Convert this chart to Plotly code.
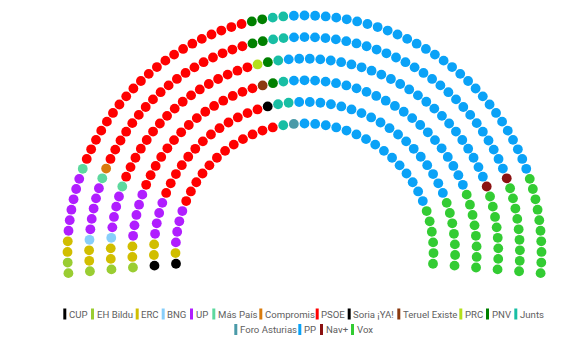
import numpy as np
import plotly.graph_objects as go

# ---------------- data ----------------
parties = ["CUP", "EH Bildu", "ERC", "BNG", "UP", "Más País", "Compromis", "PSOE",
           "Soria ¡YA!", "Teruel Existe", "PRC", "PNV", "Junts", "Foro Asturias",
           "PP", "Nav+", "Vox"]
seats = [2, 5, 11, 2, 28, 3, 1, 96, 1, 1, 1, 6, 9, 1, 133, 2, 48]
colors = ["#000000", "#9acd32", "#d1be00", "#87cefa", "#b01eff", "#5dd89e",
          "#d97b0d", "#ff0000", "#000000", "#8b3a10", "#b4e01c", "#008000",
          "#18bea4", "#4a9aa8", "#0aa2f7", "#8b1111", "#33cc33"]

# ---------------- layout parameters ----------------
W, H = 588, 353
CX, CY = 304.5, 252.5
R_INNER, R_OUTER = 129.0, 237.0
N_ROWS = 6
START_DEG, END_DEG = 185.0, -5.0
DOT = 9.8

total = sum(seats)
radii = np.linspace(R_INNER, R_OUTER, N_ROWS)          # inner -> outer
share = total * radii / radii.sum()
row_n = np.floor(share).astype(int)
rem = share - row_n
for i in np.argsort(-rem)[: total - row_n.sum()]:
    row_n[i] += 1

# build slots (inner rows first so ties at the start angle go inner first)
slots = []
for r, n in zip(radii, row_n):
    angs = np.linspace(START_DEG, END_DEG, n)
    for a in angs:
        slots.append((a, r))
slots = sorted(slots, key=lambda s: -s[0])   # stable sort

fig = go.Figure()
idx = 0
for name, n, col in zip(parties, seats, colors):
    sl = slots[idx: idx + n]
    idx += n
    xs = [CX + r * np.cos(np.radians(a)) for a, r in sl]
    ys = [CY - r * np.sin(np.radians(a)) for a, r in sl]
    fig.add_trace(go.Scatter(
        x=xs, y=ys, mode="markers", name=name,
        marker=dict(size=DOT, color=col, line=dict(width=0)),
        hovertemplate=f"{name}: {n}<extra></extra>", showlegend=False))

# ---------------- custom legend ----------------
legend_rows = [13, 4]
legend_x = [63.3, 91.0, 135.7, 161.7, 190.0, 212.3, 259.3, 315.7, 347.7, 397.3,
            459.3, 486.0, 514.3, 234.3, 298.3, 320.0, 351.0]
legend_y = [314.0, 329.5]
shapes, annots = [], []
i = 0
for li, cnt in enumerate(legend_rows):
    for _ in range(cnt):
        bx = legend_x[i]
        yc = legend_y[li]
        shapes.append(dict(type="rect", xref="x", yref="y", x0=bx, x1=bx + 3,
                           y0=yc - 5.5, y1=yc + 5.5, fillcolor=colors[i],
                           line=dict(width=0), layer="above"))
        annots.append(dict(x=bx + 4.5, y=yc, xref="x", yref="y", text=parties[i],
                           showarrow=False, xanchor="left", yanchor="middle",
                           font=dict(family="Roboto", size=9.6, color="#606060"),
                           borderpad=0))
        i += 1

fig.update_layout(
    width=W, height=H, autosize=False,
    margin=dict(l=0, r=0, t=0, b=0),
    paper_bgcolor="white", plot_bgcolor="white",
    xaxis=dict(range=[0, W], visible=False, fixedrange=True),
    yaxis=dict(range=[H, 0], visible=False, fixedrange=True),
    shapes=shapes, annotations=annots, showlegend=False,
)
fig.write_html("out.html")
